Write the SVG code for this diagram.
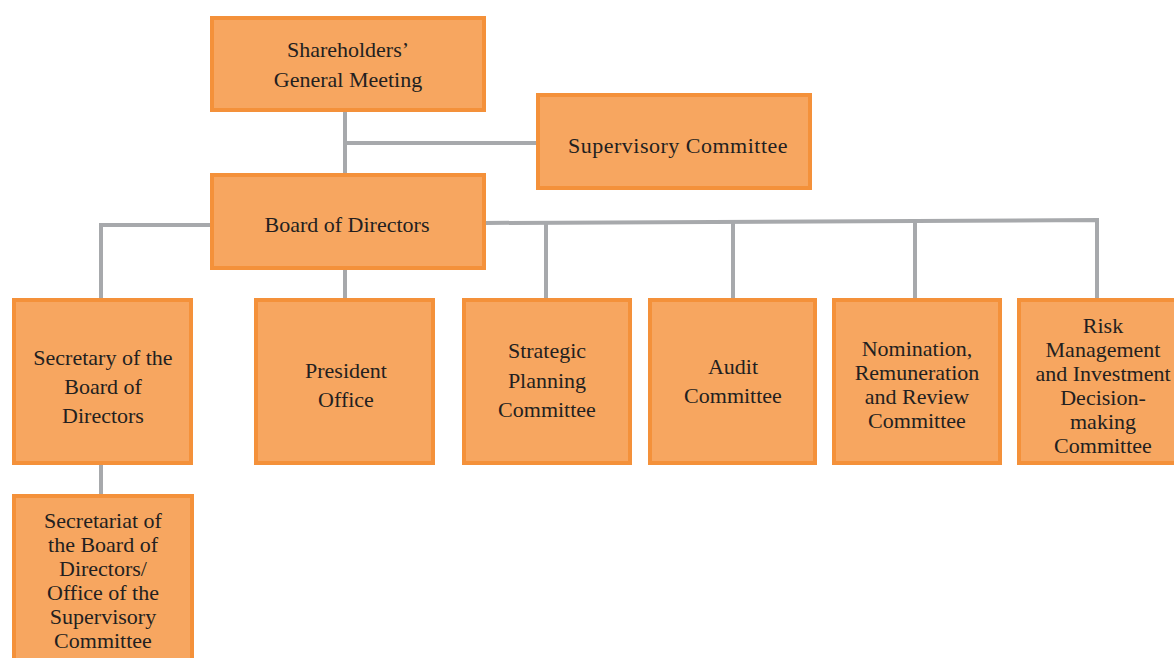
<svg xmlns="http://www.w3.org/2000/svg" width="1174" height="658" viewBox="0 0 1174 658">
<style>
.box{fill:#F7A660;stroke:#F4913A;stroke-width:4}
text{font-family:'Liberation Serif','DejaVu Serif','Times New Roman',serif;font-size:22px;fill:#231F20;text-anchor:middle}
.ln{stroke:#A7A9AC;stroke-width:4;fill:none}
</style>
<rect width="1174" height="658" fill="#fff"/>
<g id="connectors">
<line class="ln" x1="345" y1="110" x2="345" y2="175"/>
<line class="ln" x1="345" y1="143" x2="538" y2="143"/>
<polyline class="ln" points="212,225 101,225 101,300"/>
<line class="ln" x1="345" y1="268" x2="345" y2="300"/>
<polyline class="ln" points="484,223 1097,220 1097,300"/>
<line class="ln" x1="546" y1="222" x2="546" y2="300"/>
<line class="ln" x1="733" y1="222" x2="733" y2="300"/>
<line class="ln" x1="915" y1="221" x2="915" y2="300"/>
<line class="ln" x1="101" y1="463" x2="101" y2="496"/>
</g>
<g id="shareholders">
<rect class="box" x="212" y="18" width="272" height="92"/>
<text x="348" y="57">Shareholders’</text>
<text x="348" y="87">General Meeting</text>
</g>
<g id="supervisory">
<rect class="box" x="538" y="95" width="272" height="93"/>
<text x="678" y="153" letter-spacing="0.5">Supervisory Committee</text>
</g>
<g id="board">
<rect class="box" x="212" y="175" width="272" height="93"/>
<text x="347" y="232">Board of Directors</text>
</g>
<g id="secretary">
<rect class="box" x="14" y="300" width="177" height="163"/>
<text x="103" y="365">Secretary of the</text>
<text x="103" y="394">Board of</text>
<text x="103" y="423">Directors</text>
</g>
<g id="president">
<rect class="box" x="256" y="300" width="177" height="163"/>
<text x="346" y="378">President</text>
<text x="346" y="407">Office</text>
</g>
<g id="strategic">
<rect class="box" x="464" y="300" width="166" height="163"/>
<text x="547" y="358">Strategic</text>
<text x="547" y="388">Planning</text>
<text x="547" y="417">Committee</text>
</g>
<g id="audit">
<rect class="box" x="650" y="300" width="165" height="163"/>
<text x="733" y="374">Audit</text>
<text x="733" y="403">Committee</text>
</g>
<g id="nomination">
<rect class="box" x="834" y="300" width="166" height="163"/>
<text x="917" y="356">Nomination,</text>
<text x="917" y="380">Remuneration</text>
<text x="917" y="404">and Review</text>
<text x="917" y="428">Committee</text>
</g>
<g id="risk">
<rect class="box" x="1019" y="300" width="170" height="163"/>
<text x="1103" y="333">Risk</text>
<text x="1103" y="357">Management</text>
<text x="1103" y="381">and Investment</text>
<text x="1103" y="405">Decision-</text>
<text x="1103" y="429">making</text>
<text x="1103" y="453">Committee</text>
</g>
<g id="secretariat">
<rect class="box" x="14" y="496" width="178" height="175"/>
<text x="103" y="528">Secretariat of</text>
<text x="103" y="552">the Board of</text>
<text x="103" y="576">Directors/</text>
<text x="103" y="600">Office of the</text>
<text x="103" y="624">Supervisory</text>
<text x="103" y="648">Committee</text>
</g>
</svg>
